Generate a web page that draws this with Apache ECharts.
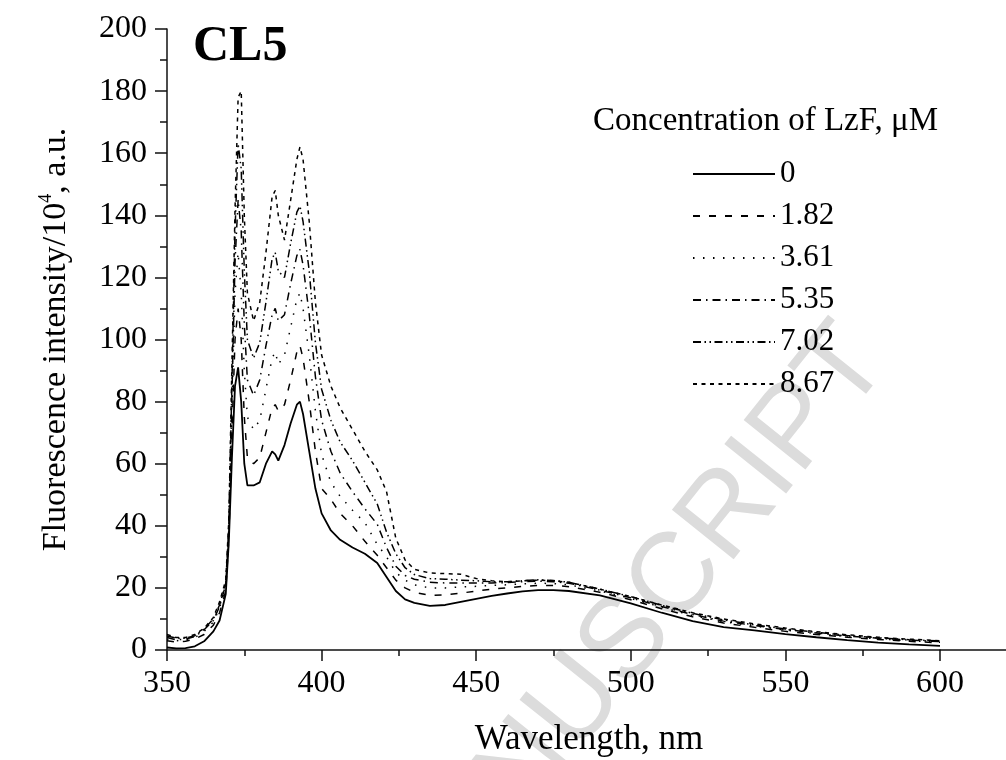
<!DOCTYPE html>
<html>
<head>
<meta charset="utf-8">
<script src="https://cdn.jsdelivr.net/npm/echarts@6/dist/echarts.min.js"></script>
<style>html,body{margin:0;padding:0;background:#fff;}#c{width:1006px;height:760px;}</style>
</head>
<body>
<div id="c"></div>
<script>
// Wavelength (nm)
var wavelengths = [350,353,356,359,362,365,367,369,370,371,372,373,374,375,376,378,380,382,384,385,386,388,390,392,393,394,396,398,400,403,406,410,414,418,421,424,427,430,435,440,445,450,455,460,465,470,475,480,490,500,510,520,530,540,550,560,570,580,590,600];
// Fluorescence intensity / 10^4 a.u. for each LzF concentration (uM)
var conc0    = [0.8,0.5,0.6,1.2,2.8,6, 9.5,18,35,62,85,91,80,60,53, 53,54,60,64,63,61,66,73,79,80,76,64,52, 44,38.5,35.5,33,31,28,23.5,19,16.3,15.2, 14.2,14.5,15.5,16.5,17.4,18.2,18.9,19.3,19.3,19, 17.6,15,12,9.3,7.4,6.3,5.1,4.1,3.2,2.4,1.8,1.3];
var conc1_82 = [3,2.5,2.8,3.5,5,8, 12,19,36,70,100,110,100,75,62, 60,62,70,78,79,77,79,87,96,98,94,80,64, 52,48.5,44,40,35,30.5,26.5,22.5,20,18.6, 17.6,17.8,18.3,19,19.6,20,20.5,20.8,20.8,20.4, 18.6,16.2,13.3,10.7,8.7,7.3,6,5,4.1,3.4,2.8,2.3];
var conc3_61 = [3.5,3,3.2,4,6,9, 13.5,20,38,78,115,128,115,90,75, 71,74,84,94,96,92,95,104,113,115,110,95,77, 63,54,49.5,45,41,34,30,25,22.5,21, 20,20,20.3,20.5,20.8,21,21.3,21.5,21.4,21, 19,16.6,13.8,11.1,9.1,7.7,6.4,5.3,4.3,3.6,3,2.5];
var conc5_35 = [4,3.3,3.5,4.3,6.5,9.5, 14,21,39,82,125,145,135,105,87, 82,87,98,108,110,106,108,118,127,129,124,108,88, 74,64,57,51,45.5,40.5,33,27,24,22.8, 21.8,21.6,21.6,21.6,21.6,21.7,22,22.2,22,21.5, 19.3,16.8,14,11.4,9.3,7.9,6.6,5.5,4.5,3.8,3.2,2.7];
var conc7_02 = [4.5,3.8,3.8,4.6,6.8,10, 14.5,21.5,40,86,135,163,155,122,100, 94,99,112,126,128,122,120,131,141,143,138,122,99, 84,74,67,61,54,47,38,31,26.5,24.3, 23,22.8,22.5,22.3,22,22,22.3,22.6,22.4,21.8, 19.6,17.2,14.4,11.8,9.7,8.1,6.8,5.7,4.7,3.9,3.3,2.9];
var conc8_67 = [5,4,4,5,7,10.5, 15.5,22.5,42,92,142,178,180,140,115, 106,112,128,146,148,140,132,145,158,162,158,138,112, 95,85,78,71,64,58,51,36,29,26, 24.8,24.6,24.4,23,22.3,22,22.3,22.5,22.3,21.8, 19.6,17.2,14.5,12,10,8.4,7.1,5.9,4.9,4.1,3.5,3];
var seriesNames = ['0','1.82','3.61','5.35','7.02','8.67'];
var seriesValues = [conc0, conc1_82, conc3_61, conc5_35, conc7_02, conc8_67];

var dashes = ['solid',[7,9],[1.5,8.5],[8,5,1.5,5],[8,3.5,1.5,3.5,1.5,3.5],[4,4.5]];
var widths = [1.8,1.5,1.5,1.5,1.5,1.5];
var serif = 'Liberation Serif';

var chart = echarts.init(document.getElementById('c'), null, {renderer:'canvas'});
var series = seriesNames.map(function(n, i){
  return {
    name: n, type: 'line', showSymbol: false, symbol: 'none', animation: false,
    xAxisIndex: 0, yAxisIndex: 0,
    data: wavelengths.map(function(w, k){ return [w, seriesValues[i][k]]; }),
    lineStyle: {color: '#000', width: widths[i], type: dashes[i]},
    itemStyle: {color: '#000'}
  };
});

var axisLine = {show: true, lineStyle: {color: '#111', width: 1.5}};
chart.setOption({
  backgroundColor: '#fff',
  animation: false,
  title: [
    {text: 'CL5', left: 188, top: 17, textStyle: {fontFamily: serif, fontSize: 50, fontWeight: 'bold', color: '#000'}},
    {text: 'Concentration of LzF, \u03bcM', left: 588, top: 100, textStyle: {fontFamily: serif, fontSize: 33, fontWeight: 'normal', color: '#000'}}
  ],
  graphic: [{
    type: 'text', z: -10, x: 629, y: 639, rotation: 51.3 * Math.PI / 180,
    style: {text: 'MANUSCRIPT', fontFamily: 'Liberation Sans', fontSize: 115, fill: '#dcdcdc', align: 'center', verticalAlign: 'middle'}
  }, {
    type: 'text', x: 589, y: 740,
    style: {text: 'Wavelength, nm', fontFamily: serif, fontSize: 35, fill: '#000', align: 'center', verticalAlign: 'middle'}
  }],
  legend: {
    orient: 'vertical', left: 692, top: 158, itemWidth: 82, itemHeight: 14, itemGap: 10, padding: 0,
    data: seriesNames,
    itemStyle: {opacity: 0},
    textStyle: {fontFamily: serif, fontSize: 31, color: '#000', lineHeight: 32}
  },
  grid: [
    {left: 167, top: 29, bottom: 110, right: 66, containLabel: false},
    {left: 940, top: 29, bottom: 110, right: 0, containLabel: false}
  ],
  xAxis: [{
    type: 'value', min: 350, max: 600, interval: 50, gridIndex: 0,
    axisLine: axisLine,
    axisTick: {show: true, inside: false, length: 11, lineStyle: {color: '#111', width: 1.5}},
    minorTick: {show: true, splitNumber: 2, length: 6, lineStyle: {color: '#111', width: 1.5}},
    splitLine: {show: false},
    axisLabel: {fontFamily: serif, fontSize: 32, color: '#000', margin: 18}
  }, {
    type: 'value', min: 600, max: 621, gridIndex: 1,
    axisLine: axisLine, axisTick: {show: false}, axisLabel: {show: false}, splitLine: {show: false}
  }],
  yAxis: [{
    type: 'value', min: 0, max: 200, interval: 20, gridIndex: 0,
    name: 'Fluorescence intensity/10{sup|4}, a.u.', nameLocation: 'middle', nameGap: 92,
    nameTextStyle: {fontFamily: serif, fontSize: 34, color: '#000', lineHeight: 38,
      rich: {sup: {fontFamily: serif, fontSize: 18, color: '#000', verticalAlign: 'top', lineHeight: 38}}},
    axisLine: axisLine,
    axisTick: {show: true, inside: false, length: 12, lineStyle: {color: '#111', width: 1.5}},
    minorTick: {show: true, splitNumber: 2, length: 7, lineStyle: {color: '#111', width: 1.5}},
    splitLine: {show: false},
    axisLabel: {fontFamily: serif, fontSize: 32, color: '#000', margin: 20}
  }, {
    type: 'value', min: 0, max: 200, gridIndex: 1, show: false
  }],
  series: series
});
</script>
</body>
</html>
